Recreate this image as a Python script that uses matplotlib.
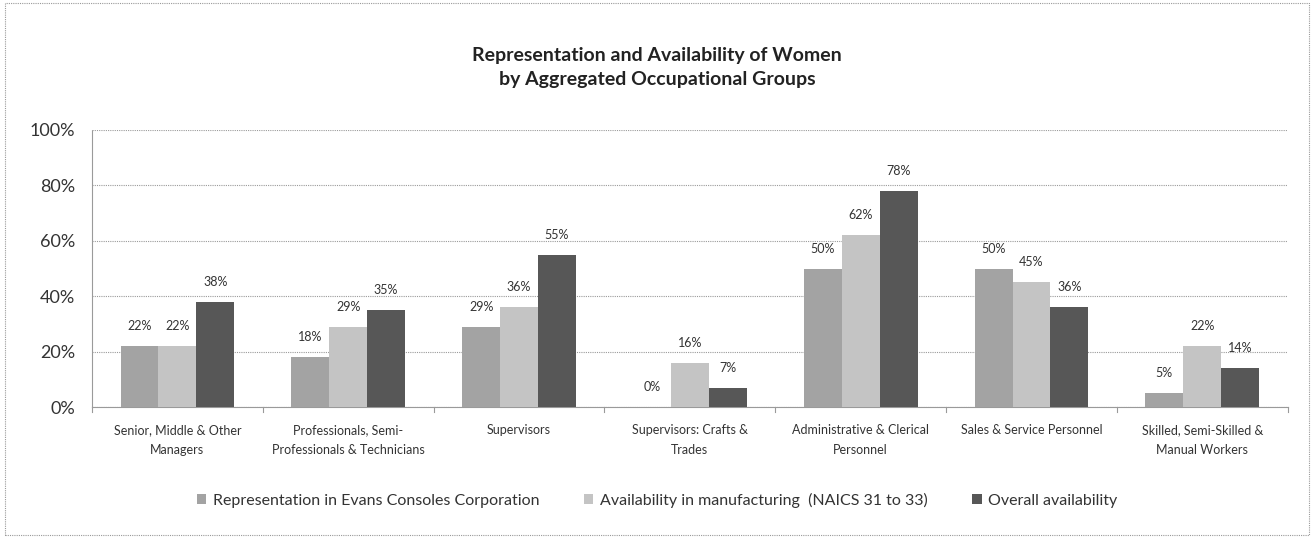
import numpy as np
import matplotlib.pyplot as plt
from matplotlib.patches import Rectangle

plt.rcParams['font.family'] = ['Lato', 'DejaVu Sans']

categories = [
    "Senior, Middle & Other\nManagers",
    "Professionals, Semi-\nProfessionals & Technicians",
    "Supervisors",
    "Supervisors: Crafts &\nTrades",
    "Administrative & Clerical\nPersonnel",
    "Sales & Service Personnel",
    "Skilled, Semi-Skilled &\nManual Workers",
]
representation = [22, 18, 29, 0, 50, 50, 5]
manufacturing = [22, 29, 36, 16, 62, 45, 22]
overall = [38, 35, 55, 7, 78, 36, 14]

series_names = [
    "Representation in Evans Consoles Corporation",
    "Availability in manufacturing  (NAICS 31 to 33)",
    "Overall availability",
]
colors = ["#a3a3a3", "#c4c4c4", "#575757"]

fig = plt.figure(figsize=(13.14, 5.37), dpi=100)
ax = fig.add_axes([0.070, 0.242, 0.910, 0.516])

x = np.arange(len(categories))
w = 0.222
for i, (vals, col, name) in enumerate(zip([representation, manufacturing, overall], colors, series_names)):
    pos = x + (i - 1) * w
    ax.bar(pos, vals, width=w, color=col, label=name, zorder=3)
    for px, v in zip(pos, vals):
        ax.text(px, v + 5, f"{v}%", ha="center", va="bottom", fontsize=9, color="#333333")

ax.set_ylim(0, 100)
ax.set_xlim(-0.5, len(categories) - 0.5)
ax.set_yticks(range(0, 101, 20))
ax.set_yticklabels([f"{t}%" for t in range(0, 101, 20)], fontsize=13, color="#333333")
ax.yaxis.grid(True, linestyle=(0, (1, 1)), color="#9a9a9a", linewidth=0.8, zorder=0)
ax.tick_params(axis="y", length=0, pad=12)

ax.set_xticks(x)
ax.set_xticklabels(categories, fontsize=9, color="#333333", linespacing=1.85)
ax.tick_params(axis="x", length=0, pad=12)
# group separator ticks on the category axis
for b in np.arange(-0.5, len(categories), 1.0):
    ax.plot([b, b], [0, -1.8], color="#9a9a9a", lw=0.8, clip_on=False, zorder=2)

for side in ("top", "right"):
    ax.spines[side].set_visible(False)
for side in ("left", "bottom"):
    ax.spines[side].set_color("#9a9a9a")
    ax.spines[side].set_linestyle((0, (1, 1)))
    ax.spines[side].set_linewidth(0.8)

fig.text(0.5, 0.874, "Representation and Availability of Women\nby Aggregated Occupational Groups",
         ha="center", va="center", fontsize=14, fontweight="bold", color="#222222", linespacing=1.5)

leg = fig.legend(loc="center", bbox_to_anchor=(0.5, 0.068), ncol=3, frameon=False,
                 fontsize=11.5, handlelength=0.6, handleheight=0.6, handletextpad=0.4,
                 columnspacing=2.8)
for t in leg.get_texts():
    t.set_color("#333333")

# dotted outer frame
fig.patches.append(Rectangle((0.004, 0.004), 0.992, 0.99, transform=fig.transFigure,
                             fill=False, edgecolor="#999999", linestyle=(0, (1, 1)), linewidth=0.8))

fig.savefig("out.png", dpi=100, facecolor="white")
